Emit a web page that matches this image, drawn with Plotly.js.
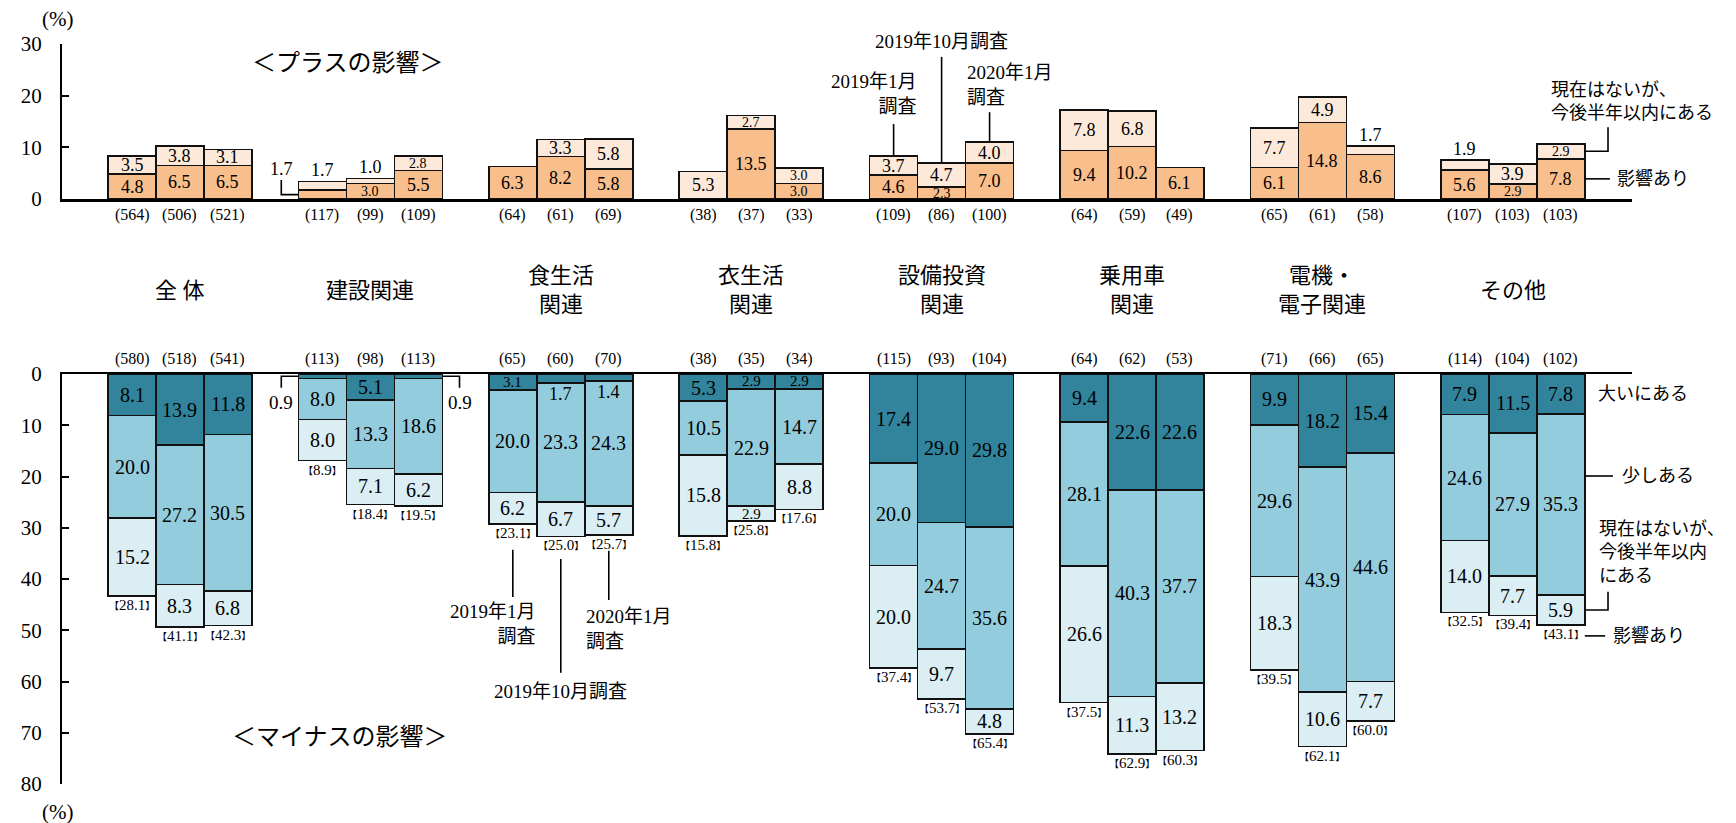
<!DOCTYPE html>
<html><head><meta charset="utf-8">
<script src="https://cdn.plot.ly/plotly-3.0.1.min.js"></script>
<style>body{margin:0;background:#fff}</style>
</head><body><div id="chart" style="width:1736px;height:823px"></div>
<script>
// ---------- data ----------
const categories = ['全 体','建設関連','食生活<br>関連','衣生活<br>関連','設備投資<br>関連','乗用車<br>関連','電機・<br>電子関連','その他'];
const surveys = ['2019年1月調査','2019年10月調査','2020年1月調査'];
// plus effect: 影響あり / 現在はないが、今後半年以内にある
const plusNow    = [[4.8,6.5,6.5],[1.7,3.0,5.5],[6.3,8.2,5.8],[0,13.5,3.0],[4.6,2.3,7.0],[9.4,10.2,6.1],[6.1,14.8,8.6],[5.6,2.9,7.8]];
const plusFuture = [[3.5,3.8,3.1],[1.7,1.0,2.8],[0,3.3,5.8],[5.3,2.7,3.0],[3.7,4.7,4.0],[7.8,6.8,0],[7.7,4.9,1.7],[1.9,3.9,2.9]];
const plusN      = [[564,506,521],[117,99,109],[64,61,69],[38,37,33],[109,86,100],[64,59,49],[65,61,58],[107,103,103]];
// minus effect: 大いにある / 少しある / 現在はないが、今後半年以内にある / 影響あり(total)
const minusMajor  = [[8.1,13.9,11.8],[0.9,5.1,0.9],[3.1,1.7,1.4],[5.3,2.9,2.9],[17.4,29.0,29.8],[9.4,22.6,22.6],[9.9,18.2,15.4],[7.9,11.5,7.8]];
const minusMinor  = [[20.0,27.2,30.5],[8.0,13.3,18.6],[20.0,23.3,24.3],[10.5,22.9,14.7],[20.0,24.7,35.6],[28.1,40.3,37.7],[29.6,43.9,44.6],[24.6,27.9,35.3]];
const minusFuture = [[15.2,8.3,6.8],[8.0,7.1,6.2],[6.2,6.7,5.7],[15.8,2.9,8.8],[20.0,9.7,4.8],[26.6,11.3,13.2],[18.3,10.6,7.7],[14.0,7.7,5.9]];
const minusTotal  = [[28.1,41.1,42.3],[8.9,18.4,19.5],[23.1,25.0,25.7],[15.8,25.8,17.6],[37.4,53.7,65.4],[37.5,62.9,60.3],[39.5,62.1,60.0],[32.5,39.4,43.1]];
const minusN      = [[580,518,541],[113,98,113],[65,60,70],[38,35,34],[115,93,104],[64,62,53],[71,66,65],[114,104,102]];
const plusTicks = [0,10,20,30];
const minusTicks = [0,10,20,30,40,50,60,70,80];

// ---------- style ----------
const BW = 0.252;
const FONT = '"Liberation Serif", "Noto Sans CJK JP", serif';
const C = {now:'#F8BE8C', pfut:'#FDE9D9', major:'#31849B', minor:'#93CDDD', mfut:'#DAEEF3', line:'#111'};
const xpos = (g,s) => g + (s-1)*BW;

const XR = [-0.6197, 7.626], XD = [62/1736, 1632/1736];
const YR1 = [0,30], YD1 = [1-199/823, 1-44/823];
const YR2 = [80,0], YD2 = [1-784/823, 1-374/823];
// data -> paper conversion (so labels outside the axis ranges are still drawn)
const px  = x => XD[0] + (x-XR[0])/(XR[1]-XR[0])*(XD[1]-XD[0]);
const pyT = y => YD1[0] + (y-YR1[0])/(YR1[1]-YR1[0])*(YD1[1]-YD1[0]);
const pyB = y => YD2[0] + (y-YR2[0])/(YR2[1]-YR2[0])*(YD2[1]-YD2[0]);

const X=[], yPN=[], yPF=[], yMM=[], yMi=[], yMF=[];
categories.forEach((c,g)=>{ for(let s=0;s<3;s++){
  X.push(xpos(g,s));
  yPN.push(plusNow[g][s]); yPF.push(plusFuture[g][s]);
  yMM.push(minusMajor[g][s]); yMi.push(minusMinor[g][s]); yMF.push(minusFuture[g][s]);
}});
const bar = (y,color,xa,ya,name) => ({type:'bar', x:X, y:y, width:BW, xaxis:xa, yaxis:ya, name:name,
  marker:{color:color, line:{color:C.line, width:1.6}}, hoverinfo:'skip', showlegend:false});
const data = [
  bar(yPN, C.now, 'x','y','影響あり'),
  bar(yPF, C.pfut,'x','y','現在はないが、今後半年以内にある'),
  bar(yMM, C.major,'x2','y2','大いにある'),
  bar(yMi, C.minor,'x2','y2','少しある'),
  bar(yMF, C.mfut,'x2','y2','現在はないが、今後半年以内にある')
];

const annotations = [], shapes = [];
// ax: 't' top panel, 'b' bottom panel, 'p' paper
function A(ax,x,y,text,o){
  const f = Object.assign({family:FONT,size:18,color:'#000'}, (o&&o.font)||{});
  const X_ = ax==='p' ? x : px(x);
  const Y_ = ax==='p' ? y : (ax==='t' ? pyT(y) : pyB(y));
  const a = Object.assign({x:X_, y:Y_, text, xref:'paper', yref:'paper', showarrow:false,
    xanchor:'center', yanchor:'middle', borderpad:0}, o||{});
  a.font = f; annotations.push(a);
}
function P(ax,pts){
  const cy = ax==='t' ? pyT : pyB;
  shapes.push({type:'path', xref:'paper', yref:'paper',
    path: pts.map((p,i)=>(i?'L':'M')+px(p[0])+','+cy(p[1])).join(' '), line:{color:'#000',width:1.6}}); }
const DX = 0.09;
const bracket = v => '<span style="font-size:10px">【</span>'+v.toFixed(1)+'<span style="font-size:10px">】</span>';

// top value labels
categories.forEach((c,g)=>{ for(let s=0;s<3;s++){
  const x = xpos(g,s), a = plusNow[g][s], b = plusFuture[g][s];
  if (a>0){
    if (a<2){
      const ex = x-BW/2, lx = ex-DX;
      P('t',[[ex,a/2],[lx,a/2],[lx,a+b+0.3]]);
      A('t', lx, a+b+0.3, a.toFixed(1), {yanchor:'bottom'});
    } else A('t', x, a/2, a.toFixed(1), {font:{size: a>=3.1?18:14}});
  }
  if (b>0){
    if (b<2.2) A('t', x, a+b, b.toFixed(1), {yanchor:'bottom'});
    else A('t', x, a+b/2, b.toFixed(1), {font:{size: b>=3.1?18:14}});
  }
  A('t', x, -3.1, '('+plusN[g][s]+')', {font:{size:16}});
}});

// bottom value labels (axis reversed: 'top' anchor puts the text below the point)
categories.forEach((c,g)=>{ for(let s=0;s<3;s++){
  const x = xpos(g,s), m = minusMajor[g][s], mi = minusMinor[g][s], f = minusFuture[g][s];
  if (m<1){
    const sign = s===0 ? -1 : 1, ex = x + sign*BW/2, lx = ex + sign*DX;
    P('b',[[ex,m/2],[lx,m/2],[lx,2.7]]);
    A('b', lx, 5.5, m.toFixed(1), {font:{size:19}});
  } else if (m<2.5){
    A('b', x, m, m.toFixed(1), {yanchor:'top', font:{size:18}});
  } else A('b', x, m/2, m.toFixed(1), {font:{size: m>=4?20:15}});
  A('b', x, m+mi/2, mi.toFixed(1), {font:{size: mi>=4?20:15}});
  A('b', x, m+mi+f/2, f.toFixed(1), {font:{size: f>=4?20:15}});
  A('b', x, m+mi+f, bracket(minusTotal[g][s]), {yanchor:'top', font:{size:15}});
  A('b', x, -2.9, '('+minusN[g][s]+')', {font:{size:16}});
}});

// category labels
categories.forEach((c,g)=> A('p', px(g), 0.6476, c, {font:{size:22}}));

// section titles
A('t', 0.88, 26.3, '＜プラスの影響＞', {font:{size:24}});
A('b', 0.84, 70.8, '＜マイナスの影響＞', {font:{size:24}});
A('p', 0.0334, 1-19/823, '(%)', {font:{size:21}});
A('p', 0.0334, 1-812/823, '(%)', {font:{size:21}});

// survey call-outs (top, 設備投資関連)
const TG = 4;
P('t',[[xpos(TG,0), plusNow[TG][0]+plusFuture[TG][0]],[xpos(TG,0),14.5]]);
A('t', xpos(TG,0)+BW/2, 20.4, '2019年1月<br>調査', {xanchor:'right', align:'right', font:{size:19}});
P('t',[[xpos(TG,1), plusNow[TG][1]+plusFuture[TG][1]],[xpos(TG,1),27.5]]);
A('t', xpos(TG,1), 30.5, surveys[1], {font:{size:19}});
P('t',[[xpos(TG,2), plusNow[TG][2]+plusFuture[TG][2]],[xpos(TG,2),16.8]]);
A('t', xpos(TG,2)-BW/2, 22.1, '2020年1月<br>調査', {xanchor:'left', align:'left', font:{size:19}});

// survey call-outs (bottom, 食生活関連)
const BG = 2;
const bot = s => minusMajor[BG][s]+minusMinor[BG][s]+minusFuture[BG][s];
P('b',[[xpos(BG,0), bot(0)+5.0],[xpos(BG,0),43.5]]);
A('b', xpos(BG,0)+BW/2, 48.7, '2019年1月<br>調査', {xanchor:'right', align:'right', font:{size:19}});
P('b',[[xpos(BG,1), bot(1)+4.4],[xpos(BG,1),58.3]]);
A('b', xpos(BG,1), 62.0, surveys[1], {font:{size:19}});
P('b',[[xpos(BG,2), bot(2)+3.1],[xpos(BG,2),44.1]]);
A('b', xpos(BG,2)-BW/2, 49.7, '2020年1月<br>調査', {xanchor:'left', align:'left', font:{size:19}});

// legend call-outs (right, その他)
const RG = 7, rx = xpos(RG,2)+BW/2;
const pn = plusNow[RG][2], pf = plusFuture[RG][2];
P('t',[[rx, pn+pf/2],[7.50, pn+pf/2],[7.50,13.9]]);
A('t', 7.195, 18.9, '現在はないが、<br>今後半年以内にある', {xanchor:'left', align:'left', font:{size:18}});
P('t',[[rx, pn/2],[7.51, pn/2]]);
A('t', 7.54, pn/2, '影響あり', {xanchor:'left', font:{size:18}});
const mm = minusMajor[RG][2], mmi = minusMinor[RG][2], mf = minusFuture[RG][2];
A('b', 7.44, mm/2, '大いにある', {xanchor:'left', font:{size:18}});
P('b',[[rx,19.9],[7.526,19.9]]);
A('b', 7.57, 19.9, '少しある', {xanchor:'left', font:{size:18}});
P('b',[[rx, mm+mmi+mf/2],[7.50, mm+mmi+mf/2],[7.50,42.5]]);
A('b', 7.447, 34.9, '現在はないが、<br>今後半年以内<br>にある', {xanchor:'left', align:'left', font:{size:18}});
P('b',[[rx, mm+mmi+mf+2.1],[7.485, mm+mmi+mf+2.1]]);
A('b', 7.52, mm+mmi+mf+2.1, '影響あり', {xanchor:'left', font:{size:18}});

const xa = {domain:XD, range:XR, showline:true, linewidth:2.5, linecolor:'#000', showticklabels:false, ticks:'', showgrid:false, zeroline:false, fixedrange:true};
const ya = {showline:true, linewidth:2, linecolor:'#000', ticks:'inside', ticklen:7, tickwidth:2, tickcolor:'#000',
  showgrid:false, zeroline:false, tickfont:{family:FONT, size:21, color:'#000'}, ticklabelstandoff:14};
const layout = {
  width:1736, height:823, margin:{l:0,r:0,t:0,b:0}, paper_bgcolor:'#fff', plot_bgcolor:'rgba(0,0,0,0)',
  barmode:'stack', bargap:0, showlegend:false,
  xaxis: Object.assign({}, xa, {anchor:'y'}),
  xaxis2: Object.assign({}, xa, {anchor:'y2', side:'top'}),
  yaxis: Object.assign({}, ya, {domain:YD1, range:YR1, tickvals:plusTicks, anchor:'x'}),
  yaxis2: Object.assign({}, ya, {domain:YD2, range:YR2, tickvals:minusTicks, anchor:'x2'}),
  annotations, shapes, font:{family:FONT}
};
Plotly.newPlot('chart', data, layout, {displayModeBar:false, staticPlot:true});
</script></body></html>
